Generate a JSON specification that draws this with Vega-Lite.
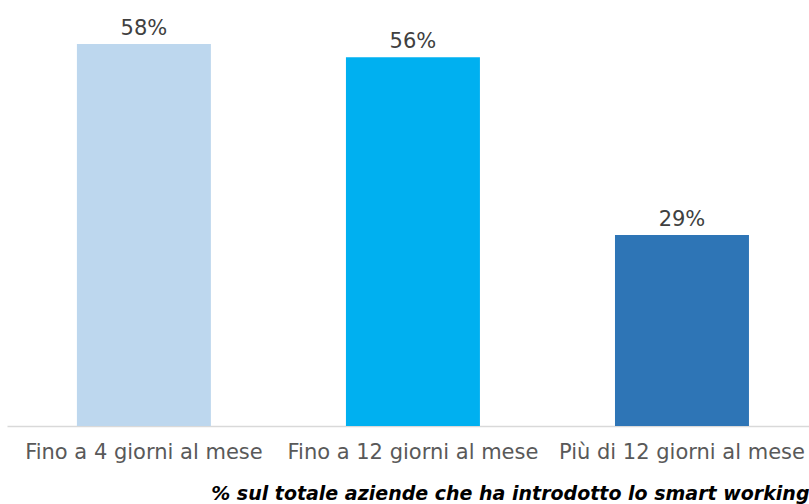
{
  "$schema": "https://vega.github.io/schema/vega-lite/v6.json",
  "autosize": {"type": "none"},
  "width": 802,
  "height": 426,
  "padding": {"left": 7, "top": 0, "right": 0, "bottom": 78},
  "background": "white",
  "config": {"view": {"stroke": null}, "font": "DejaVu Sans"},
  "data": {"values": [
    {"categoria": "Fino a 4 giorni al mese", "valore": 0.58, "etichetta": "58%"},
    {"categoria": "Fino a 12 giorni al mese", "valore": 0.56, "etichetta": "56%"},
    {"categoria": "Più di 12 giorni al mese", "valore": 0.29, "etichetta": "29%"}
  ]},
  "encoding": {
    "x": {
      "field": "categoria", "type": "nominal", "sort": null,
      "scale": {"paddingInner": 0.502, "paddingOuter": 0.2415, "align": 0.538},
      "axis": {
        "title": "% sul totale aziende che ha introdotto lo smart working",
        "titleAnchor": "end", "titleAlign": "right", "titleFont": "DejaVu Sans",
        "titleFontSize": 19, "titleFontStyle": "italic", "titleFontWeight": "bold",
        "titleColor": "#000000", "titlePadding": 22,
        "labelAngle": 0, "labelFontSize": 21, "labelColor": "#595959",
        "labelPadding": 15, "ticks": false, "domainColor": "#D9D9D9", "domainWidth": 1.5,
        "labelLimit": 400
      }
    },
    "y": {
      "field": "valore", "type": "quantitative",
      "scale": {"domain": [0, 0.647], "nice": false, "zero": true},
      "axis": null
    }
  },
  "layer": [
    {
      "mark": {"type": "bar"},
      "encoding": {
        "color": {
          "field": "categoria", "type": "nominal", "sort": null,
          "scale": {"domain": ["Fino a 4 giorni al mese", "Fino a 12 giorni al mese", "Più di 12 giorni al mese"], "range": ["#BDD7EE", "#00B0F0", "#2E75B6"]},
          "legend": null
        }
      }
    },
    {
      "mark": {"type": "text", "dy": -9, "baseline": "alphabetic", "fontSize": 21, "color": "#404040"},
      "encoding": {"text": {"field": "etichetta"}}
    }
  ]
}
